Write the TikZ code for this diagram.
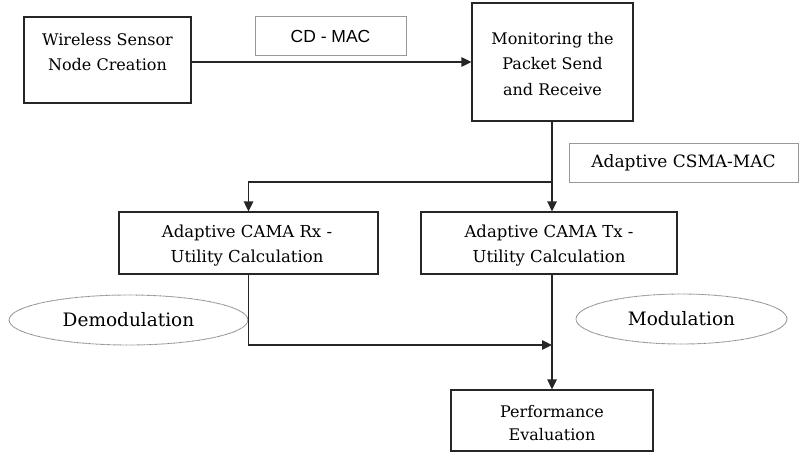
\documentclass[tikz,border=0pt]{standalone}
\usepackage{fontspec}
\setmainfont{DejaVu Serif}
\newfontfamily\labsans{Liberation Sans}
\usetikzlibrary{arrows.meta,shapes.geometric}
\tikzset{
  box/.style={draw=black!85, line width=1.3pt, rectangle, inner sep=0pt},
  graybox/.style={draw=black!40, line width=1pt, rectangle, inner sep=0pt},
  txt/.style={align=center, inner sep=0pt, font=\fontsize{16}{25.5}\selectfont},
  oval/.style={ellipse, draw=black!50, line width=0.9pt, dash pattern=on 0.7pt off 0.5pt, inner sep=0pt, font=\fontsize{18.5}{22}\selectfont},
  arr/.style={draw=black!85, line width=1.4pt, -{Triangle[length=10pt,width=9.5pt]}},
}
\begin{document}
\begin{tikzpicture}[x=1pt,y=-1pt]
\useasboundingbox (0,0) rectangle (800,452);
% boxes
\node[box, minimum width=167pt, minimum height=86pt] (b1) at (107.5,60) {};
\node[txt] (t1) at (107.5,52) {Wireless Sensor\\Node Creation};
\node[graybox, minimum width=151pt, minimum height=39pt] (cd) at (330.5,36.5) {\labsans\fontsize{17.5}{20}\selectfont CD - MAC};
\node[box, minimum width=161pt, minimum height=118pt] (b2) at (552.5,62) {};
\node[txt] (t2) at (552.5,64) {Monitoring the\\Packet Send\\and Receive};
\node[graybox, minimum width=229pt, minimum height=39pt, font=\fontsize{17}{20}\selectfont] (csma) at (683.5,162.5) {Adaptive CSMA-MAC};
\node[box, minimum width=259pt, minimum height=62pt] (rx) at (248.5,243) {};
\node[txt, font=\fontsize{16.5}{25}\selectfont] (trx) at (247,245.5) {Adaptive CAMA Rx -\\Utility Calculation};
\node[box, minimum width=256pt, minimum height=62pt] (tx) at (549,243) {};
\node[txt, font=\fontsize{16.5}{25}\selectfont] (ttx) at (549,245.5) {Adaptive CAMA Tx -\\Utility Calculation};
\node[box, minimum width=202pt, minimum height=61pt] (perf) at (552,420.5) {};
\node[txt, font=\fontsize{16}{23}\selectfont] (tperf) at (552,423.5) {Performance\\Evaluation};
\node[oval, minimum width=239pt, minimum height=50pt] (demod) at (128.5,320) {Demodulation};
\node[oval, minimum width=211pt, minimum height=50pt] (mod) at (681.5,319) {Modulation};
% junctions
\coordinate (j1) at (552,182);
\coordinate (j2) at (552,345);
% connectors
\draw[arr] (b1.east |- b2.west) -- (b2.west);
\draw[arr] (b2.south -| j1) -- (j1 |- tx.north);
\draw[arr] (j1) -| (rx.north);
\draw[arr] (rx.south) |- (j2);
\draw[arr] (j2 |- tx.south) -- (j2 |- perf.north);
\end{tikzpicture}
\end{document}
